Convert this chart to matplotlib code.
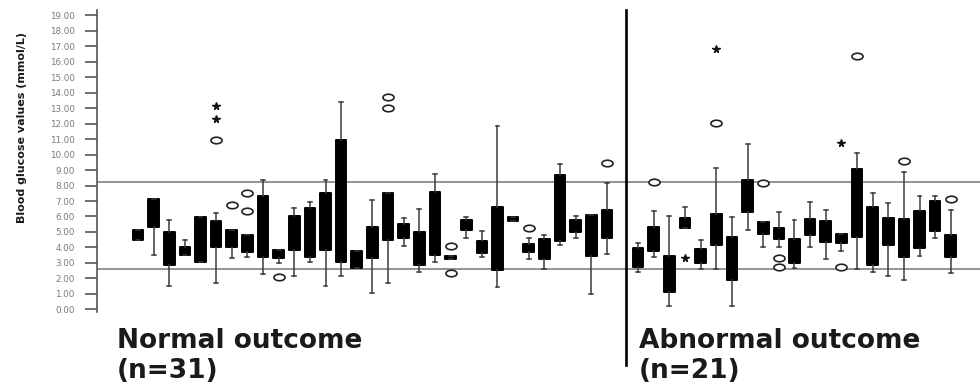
import numpy as np
import matplotlib
matplotlib.use("Agg")
import matplotlib.pyplot as plt
from matplotlib.path import Path
from matplotlib.transforms import Affine2D

# ---------------- data (mmol/L) ----------------
normal_q1 = [4.5, 5.34, 2.87, 3.51, 3.08, 4.05, 4.05, 3.73, 3.4, 3.3, 3.84, 3.36, 3.84, 3.08, 2.65, 3.3,
             4.48, 4.59, 2.87, 3.51, 3.23, 5.13, 3.66, 2.54, 5.73, 3.73, 3.23, 4.44, 5.02, 3.45, 4.59]
normal_q3 = [5.13, 7.11, 4.98, 4.05, 5.95, 5.73, 5.13, 4.8, 7.33, 3.84, 6.03, 6.53, 7.5, 10.95, 3.79, 5.34,
             7.54, 5.52, 4.98, 7.6, 3.47, 5.78, 4.44, 6.64, 5.99, 4.22, 4.53, 8.69, 5.78, 6.1, 6.42]
normal_lo = [4.5, 3.51, 1.51, 3.51, 3.08, 1.68, 3.3, 3.4, 2.28, 2.97, 2.16, 3.08, 1.51, 2.16, 2.65, 1.03,
             1.68, 4.09, 2.44, 3.08, 3.23, 4.63, 3.4, 1.42, 5.73, 3.23, 2.59, 4.16, 4.63, 0.99, 3.56]
normal_hi = [5.13, 7.11, 5.78, 4.48, 5.95, 6.21, 5.13, 4.8, 8.36, 3.84, 6.53, 6.96, 8.36, 13.43, 3.79, 7.07,
             7.54, 5.88, 6.47, 8.75, 3.47, 5.95, 5.06, 11.85, 5.99, 4.59, 4.8, 9.4, 6.03, 6.1, 8.15]
normal_out_box = [6, 7, 8, 8, 10, 17, 17, 21, 21, 26, 31]
normal_out_val = [10.95, 6.75, 7.54, 6.38, 2.11, 13.75, 13.0, 4.09, 2.33, 5.28, 9.44]
normal_ext_box = [6, 6]
normal_ext_val = [12.3, 13.15]

abn_q1 = [2.76, 3.79, 1.14, 5.24, 3.02, 4.16, 1.9, 6.31, 4.85, 4.53, 3.02, 4.8, 4.38, 4.27, 4.7, 2.87,
          4.16, 3.4, 3.94, 5.06, 3.4]
abn_q3 = [3.94, 5.34, 3.45, 5.88, 3.88, 6.16, 4.7, 8.36, 5.67, 5.24, 4.53, 5.82, 5.71, 4.85, 9.07, 6.59,
          5.88, 5.82, 6.38, 7.0, 4.8]
abn_lo = [2.44, 3.4, 0.22, 5.24, 2.59, 2.59, 0.22, 5.13, 4.0, 4.0, 2.65, 4.05, 3.23, 3.79, 2.59, 2.44,
          2.16, 1.9, 3.45, 4.59, 2.33]
abn_hi = [4.27, 6.38, 6.03, 6.59, 4.48, 9.12, 5.99, 10.69, 5.67, 6.27, 5.78, 6.96, 6.42, 4.85, 10.09, 7.5,
          6.85, 8.9, 7.33, 7.33, 6.42]
abn_out_box = [2, 6, 9, 10, 10, 14, 15, 18, 21]
abn_out_val = [8.25, 12.03, 8.19, 3.3, 2.76, 2.76, 16.4, 9.61, 7.11]
abn_ext_box = [4, 6, 14]
abn_ext_val = [3.3, 16.81, 10.73]

ref_lines = [2.6, 8.2]
yticks = list(range(0, 20))
group_labels = ["Normal outcome", "Abnormal outcome"]
group_n = ["(n=31)", "(n=21)"]

# ---------------- figure ----------------
fig = plt.figure(figsize=(9.8, 3.82), dpi=100)
ax = fig.add_axes([97 / 980, 0.1822, 1 - 97 / 980, 0.7918])

n_norm = len(normal_q1)
pos_norm = np.arange(1, n_norm + 1)
pos_abn = np.arange(n_norm + 2, n_norm + 2 + len(abn_q1))

def make_stats(q1, q3, lo, hi):
    return [dict(q1=a, q3=b, med=a, whislo=c, whishi=d, fliers=[])
            for a, b, c, d in zip(q1, q3, lo, hi)]

stats = make_stats(normal_q1, normal_q3, normal_lo, normal_hi) + make_stats(abn_q1, abn_q3, abn_lo, abn_hi)
positions = list(pos_norm) + list(pos_abn)

ax.bxp(stats, positions=positions, widths=0.68, patch_artist=True, showfliers=False,
       manage_ticks=False, capwidths=0.25,
       boxprops=dict(facecolor="black", edgecolor="black", linewidth=1.4, joinstyle="round"),
       whiskerprops=dict(color="#3a3a3a", linewidth=1.1),
       capprops=dict(color="#3a3a3a", linewidth=1.1),
       medianprops=dict(visible=False))

# reference lines
for v in ref_lines:
    ax.axhline(v, color="#808080", lw=1.2, zorder=0.5)

# outliers (open ellipses) and extremes (asterisks)
ell = Path.unit_circle().transformed(Affine2D().scale(1.7, 1.0))
out_x = [pos_norm[i - 1] for i in normal_out_box] + [pos_abn[i - 1] for i in abn_out_box]
out_y = normal_out_val + abn_out_val
ax.plot(out_x, out_y, linestyle="none", marker=ell, markersize=8,
        markerfacecolor="white", markeredgecolor="#222222", markeredgewidth=1.2, zorder=3)
ext_x = [pos_norm[i - 1] for i in normal_ext_box] + [pos_abn[i - 1] for i in abn_ext_box]
ext_y = normal_ext_val + abn_ext_val
ax.plot(ext_x, ext_y, linestyle="none", marker="*", markersize=5.5,
        color="#111111", zorder=3)

# divider between groups
ax.axvline(32.2, ymin=-0.174, ymax=1.0, color="black", lw=1.9, clip_on=False, zorder=4)

# axes styling
ax.set_xlim(-1.62, 54.87)
ax.set_ylim(-0.2, 19.35)
ax.set_yticks(yticks)
ax.set_yticklabels([f"{v:.2f}" for v in yticks], fontsize=6.3, color="#7a7a7a")
ax.tick_params(axis="y", length=9, width=1.2, color="#555555", pad=7)
ax.set_xticks([])
for s in ["top", "right", "bottom"]:
    ax.spines[s].set_visible(False)
ax.spines["left"].set_color("#555555")
ax.spines["left"].set_linewidth(1.2)

fig.text(22 / 980, 1 - 127 / 382, "Blood glucose values (mmol/L)", rotation=90,
         ha="center", va="center", fontsize=8, fontweight="bold", color="#1a1a1a")

# group labels
lab_kw = dict(ha="left", va="baseline", fontsize=19, fontweight="bold", color="#1a1a1a")
fig.text(117 / 980, 1 - 347.7 / 382, group_labels[0], **lab_kw)
fig.text(117 / 980, 1 - 377.5 / 382, group_n[0], **lab_kw)
fig.text(639 / 980, 1 - 347.7 / 382, group_labels[1], **lab_kw)
fig.text(639 / 980, 1 - 377.5 / 382, group_n[1], **lab_kw)

fig.savefig("out.png", dpi=100)
